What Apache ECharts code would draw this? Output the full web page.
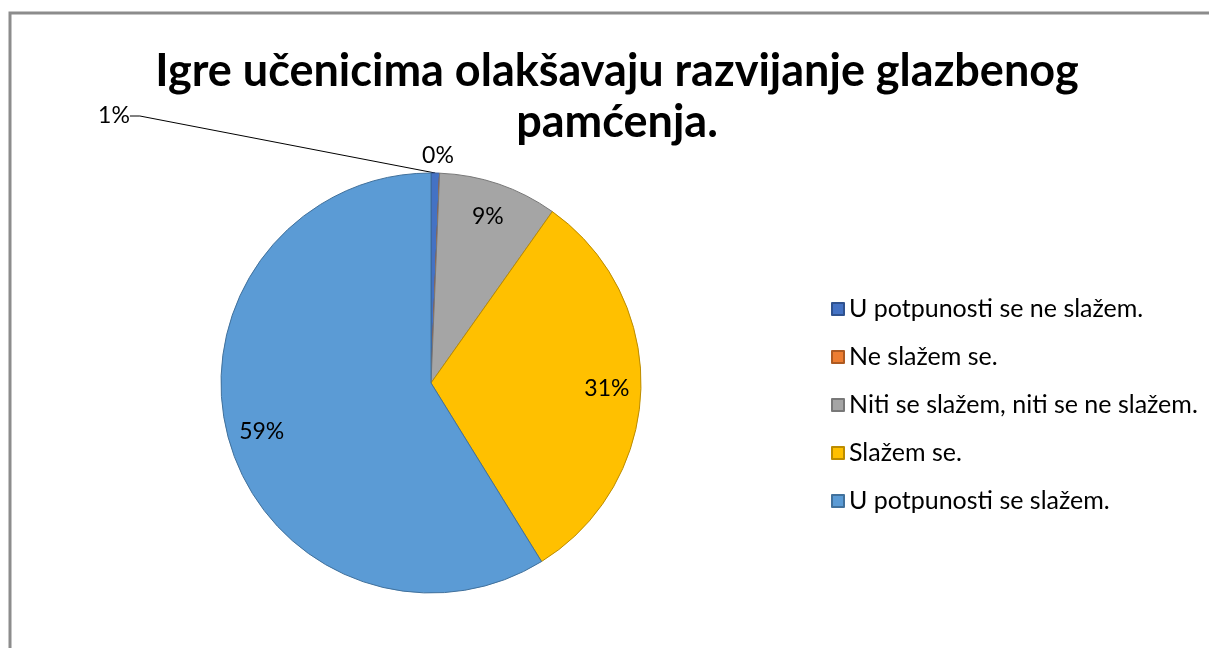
<!DOCTYPE html>
<html>
<head>
<meta charset="utf-8">
<script src="https://cdn.jsdelivr.net/npm/echarts@6/dist/echarts.min.js"></script>
<style>
  html, body { margin: 0; padding: 0; background: #fff; }
  #chart { width: 1209px; height: 648px; }
</style>
</head>
<body>
<div id="chart"></div>
<script>
// podaci
const titleText = 'Igre učenicima olakšavaju razvijanje glazbenog\npamćenja.';
const categories = [
    'U potpunosti se ne slažem.',
    'Ne slažem se.',
    'Niti se slažem, niti se ne slažem.',
    'Slažem se.',
    'U potpunosti se slažem.'
];
const counts = [1, 0, 14, 48, 90];
const percentLabels = ['1%', '0%', '9%', '31%', '59%'];

// boje
const sliceColors = ['#4472C4', '#ED7D31', '#A5A5A5', '#FFC000', '#5B9BD5'];
const borderColors = ['#2F528F', '#AE5A21', '#787878', '#BC8C00', '#41719C'];

const FONT = 'Lato, "Noto Sans", sans-serif';
const chart = echarts.init(document.getElementById('chart'));

const baseData = categories.map((name, i) => ({
    name: name,
    value: counts[i],
    itemStyle: { color: sliceColors[i], borderColor: borderColors[i], borderWidth: 1 }
}));

const option = {
    backgroundColor: '#fff',
    animation: false,
    title: {
        text: titleText,
        left: 617,
        top: 46,
        padding: 0,
        textAlign: 'center',
        textStyle: { fontFamily: FONT, fontWeight: 'bold', fontSize: 45, lineHeight: 51, color: '#000' }
    },
    legend: {
        orient: 'vertical',
        left: 826,
        top: 291,
        itemWidth: 12,
        itemHeight: 12,
        itemGap: 22,
        icon: 'rect',
        data: categories,
        textStyle: { fontFamily: FONT, fontSize: 25, lineHeight: 26, color: '#000', padding: [0, 0, 0, 0] }
    },
    graphic: [{
        type: 'rect',
        shape: { x: 10, y: 13, width: 1400, height: 800 },
        style: { fill: 'none', stroke: '#8c8c8c', lineWidth: 3 },
        silent: true
    }],
    series: [
        {
            name: 'slices',
            type: 'pie',
            center: [431, 383],
            radius: 210,
            startAngle: 90,
            clockwise: true,
            avoidLabelOverlap: false,
            data: baseData.map((d, i) => Object.assign({}, d, {
                label: { show: i < 2 },
                labelLine: { show: i === 0 }
            })),
            label: {
                position: 'outside',
                formatter: p => percentLabels[p.dataIndex],
                fontFamily: FONT,
                fontSize: 23,
                color: '#000'
            },
            labelLine: { length: 10, length2: 10, lineStyle: { color: '#000', width: 1 } },
            labelLayout: p => {
                if (p.dataIndex === 0) return { x: 114, y: 116, align: 'center', verticalAlign: 'middle' };
                if (p.dataIndex === 1) return { x: 438, y: 156, align: 'center', verticalAlign: 'middle' };
                return {};
            },
            emphasis: { disabled: true }
        },
        {
            name: 'labels',
            type: 'pie',
            center: [431, 383],
            radius: [136, 210],
            startAngle: 90,
            clockwise: true,
            silent: true,
            avoidLabelOverlap: false,
            legendHoverLink: false,
            data: categories.map((name, i) => ({
                name: name,
                value: counts[i],
                itemStyle: { color: 'rgba(0,0,0,0)' },
                label: { show: i > 1 }
            })),
            label: {
                position: 'inside',
                formatter: p => percentLabels[p.dataIndex],
                fontFamily: FONT,
                fontSize: 23,
                color: '#000'
            },
            labelLine: { show: false },
            emphasis: { disabled: true }
        }
    ]
};

chart.setOption(option);
</script>
</body>
</html>
